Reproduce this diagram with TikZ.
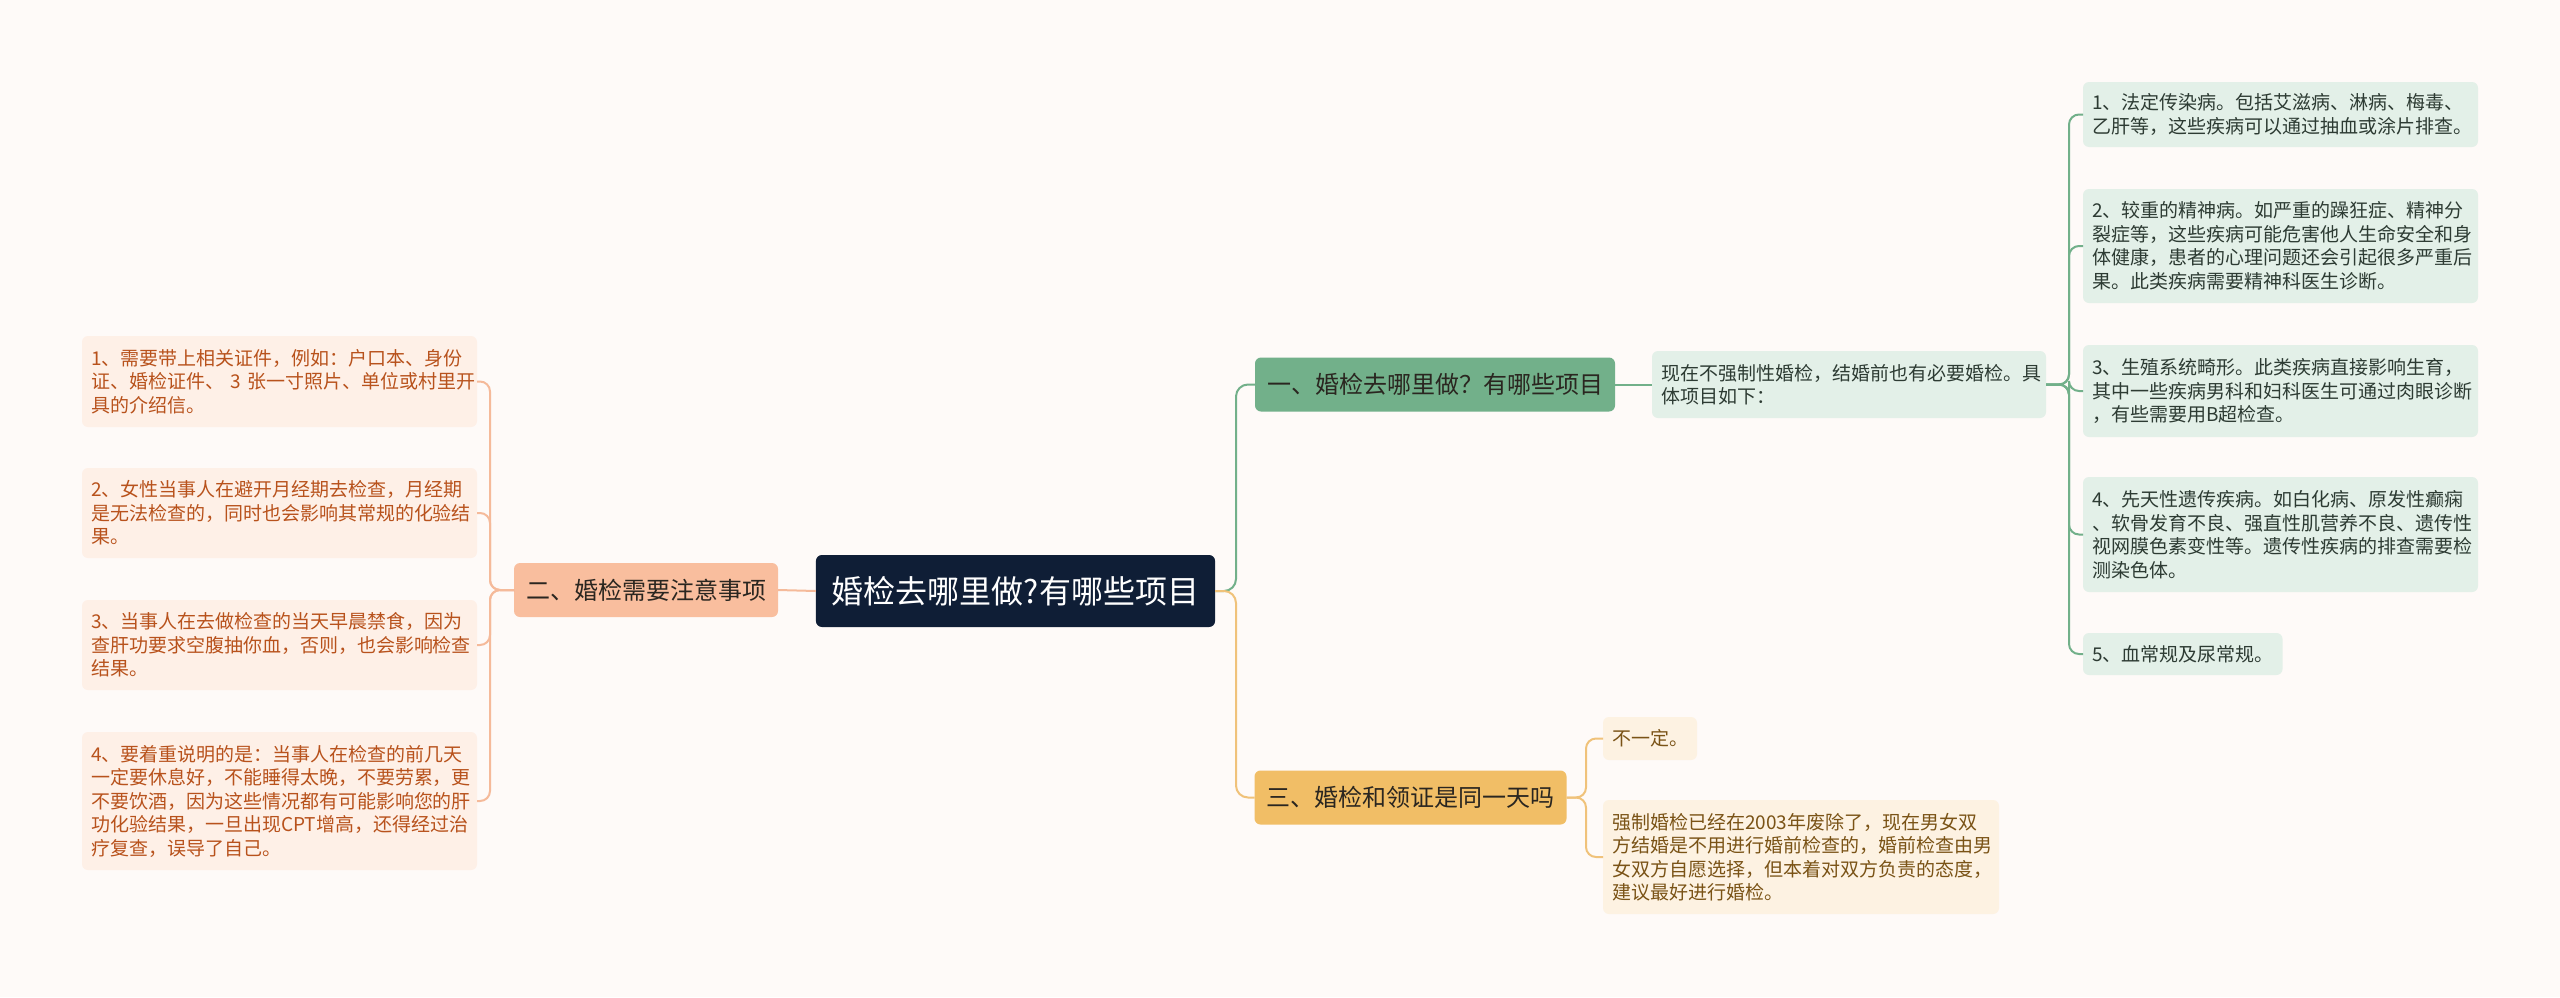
\documentclass[tikz,border=0pt]{standalone}
\usepackage{fontspec}
\setmainfont{Noto Sans CJK SC}
\definecolor{bgcol}{HTML}{FEFAF8}
\definecolor{rootfill}{HTML}{0F1E36}
\definecolor{darktext}{HTML}{2A2620}
\definecolor{ofill}{HTML}{F9BE9E}
\definecolor{oline}{HTML}{F5BA9A}
\definecolor{oleaf}{HTML}{FEF0E7}
\definecolor{otext}{HTML}{B8521C}
\definecolor{gfill}{HTML}{72B08A}
\definecolor{gline}{HTML}{72B08A}
\definecolor{gleaf}{HTML}{E3F0E8}
\definecolor{gtext}{HTML}{2D3B33}
\definecolor{yfill}{HTML}{F1BE66}
\definecolor{yline}{HTML}{F0C27A}
\definecolor{yleaf}{HTML}{FDF2E2}
\definecolor{ytext}{HTML}{7A5316}

\tikzset{
    rootbox/.style={fill=rootfill, text=white, rounded corners=6pt, outer sep=0pt,
        minimum height=72pt, inner xsep=16pt, font=\fontsize{32}{38}\selectfont},
    branchbox/.style={fill=#1, text=darktext, rounded corners=6pt, outer sep=0pt,
        minimum height=54pt, inner xsep=12pt, font=\fontsize{24}{29}\selectfont},
    leafbox/.style={rounded corners=6pt, outer sep=0pt, inner xsep=9pt, inner ysep=0pt,
        align=left, anchor=north west, font=\fontsize{19}{23.5}\selectfont},
    oleafbox/.style={leafbox, fill=oleaf, text=otext},
    gleafbox/.style={leafbox, fill=gleaf, text=gtext},
    yleafbox/.style={leafbox, fill=yleaf, text=ytext},
    link/.style={draw=#1, line width=2pt, rounded corners=10pt},
}

\begin{document}
\begin{tikzpicture}[x=1pt,y=-1pt]
\useasboundingbox (0,0) rectangle (2560,997);
\fill[bgcol] (0,0) rectangle (2560,997);

\node[rootbox] (root) at (1015.5,591) {婚检去哪里做?有哪些项目};
\node[branchbox=ofill] (b2) at (646,590) {二、婚检需要注意事项};
\node[branchbox=gfill] (b1) at (1435,384.5) {一、婚检去哪里做？有哪些项目};
\node[branchbox=yfill] (b3) at (1410.5,797.5) {三、婚检和领证是同一天吗};

\node[oleafbox, text width=377pt, minimum height=91pt] (l1) at (82,336)
    {1、需要带上相关证件，例如：户口本、身份\\证、婚检证件、~3~张一寸照片、单位或村里开\\具的介绍信。};
\node[oleafbox, text width=377pt, minimum height=90pt] (l2) at (82,468)
    {2、女性当事人在避开月经期去检查，月经期\\是无法检查的，同时也会影响其常规的化验结\\果。};
\node[oleafbox, text width=377pt, minimum height=90pt] (l3) at (82,600)
    {3、当事人在去做检查的当天早晨禁食，因为\\查肝功要求空腹抽你血，否则，也会影响检查\\结果。};
\node[oleafbox, text width=377pt, minimum height=138pt] (l4) at (82,732)
    {4、要着重说明的是：当事人在检查的前几天\\一定要休息好，不能睡得太晚，不要劳累，更\\不要饮酒，因为这些情况都有可能影响您的肝\\功化验结果，一旦出现CPT增高，还得经过治\\疗复查，误导了自己。};

\node[gleafbox, text width=376pt, minimum height=67pt] (intro) at (1652,351)
    {现在不强制性婚检，结婚前也有必要婚检。具\\体项目如下：};
\node[gleafbox, text width=377pt, minimum height=65pt] (r1) at (2083,82)
    {1、法定传染病。包括艾滋病、淋病、梅毒、\\乙肝等，这些疾病可以通过抽血或涂片排查。};
\node[gleafbox, text width=377pt, minimum height=114pt] (r2) at (2083,189)
    {2、较重的精神病。如严重的躁狂症、精神分\\裂症等，这些疾病可能危害他人生命安全和身\\体健康，患者的心理问题还会引起很多严重后\\果。此类疾病需要精神科医生诊断。};
\node[gleafbox, text width=377pt, minimum height=92pt] (r3) at (2083,345)
    {3、生殖系统畸形。此类疾病直接影响生育，\\其中一些疾病男科和妇科医生可通过肉眼诊断\\，有些需要用B超检查。};
\node[gleafbox, text width=377pt, minimum height=115pt] (r4) at (2083,477)
    {4、先天性遗传疾病。如白化病、原发性癫痫\\、软骨发育不良、强直性肌营养不良、遗传性\\视网膜色素变性等。遗传性疾病的排查需要检\\测染色体。};
\node[gleafbox, minimum height=42pt] (r5) at (2083,633) {5、血常规及尿常规。};

\node[yleafbox, minimum height=43pt] (y1) at (1603,717) {不一定。};
\node[yleafbox, text width=378pt, minimum height=114pt] (y2) at (1603,800)
    {强制婚检已经在2003年废除了，现在男女双\\方结婚是不用进行婚前检查的，婚前检查由男\\女双方自愿选择，但本着对双方负责的态度，\\建议最好进行婚检。};

\coordinate (lbus) at (490,590);
\coordinate (rootbus) at (1236,591);
\coordinate (rbus) at (2069,384.5);
\coordinate (ybus) at (1586,797.5);

\draw[link=oline] (root.west) -- (b2.east);
\foreach \n in {l1,l2,l3,l4}
    \draw[link=oline] (b2.west) -- (lbus) |- (\n.east);
\draw[link=gline, rounded corners=12pt] (root.east) -- (rootbus) |- (b1.west);
\draw[link=yline, rounded corners=12pt] (root.east) -- (rootbus) |- (b3.west);
\draw[link=gline] (b1.east) -- (intro.west);
\foreach \n in {r1,r2,r3,r4,r5}
    \draw[link=gline] (intro.east) -- (rbus) |- (\n.west);
\foreach \n in {y1,y2}
    \draw[link=yline] (b3.east) -- (ybus) |- (\n.west);
\end{tikzpicture}
\end{document}
